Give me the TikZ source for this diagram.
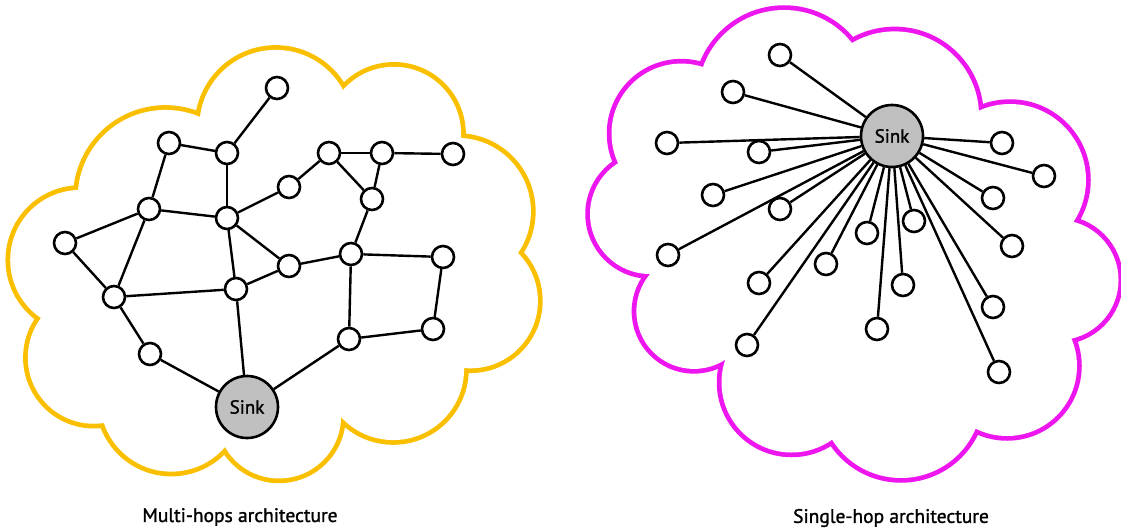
\documentclass[tikz,border=0pt]{standalone}
\usepackage{fontspec}
\setmainfont{PT Sans}
\newfontfamily\capfont[FakeBold=1.3]{PT Sans}
\definecolor{cloudY}{RGB}{250,192,0}
\definecolor{cloudM}{RGB}{238,22,238}
\definecolor{sinkgray}{RGB}{192,192,192}
\begin{document}
\begin{tikzpicture}[x=1pt,y=-1pt,
  nd/.style={circle,draw=black,line width=2.6pt,fill=white,minimum size=22pt,inner sep=0pt},
  sinknode/.style={circle,draw=black,line width=2.6pt,fill=sinkgray,minimum size=62pt,inner sep=0pt,font=\capfont\fontsize{19}{21}\selectfont},
  edge/.style={line width=2.4pt,black},
  lbl/.style={font=\capfont\fontsize{19.5}{22}\selectfont},
  cloudline/.style={line width=9.5pt}]
\useasboundingbox (0,0) rectangle (1121,532);

% ---------- left cloud (union of lobes) ----------
\foreach \cx/\cy/\r in {165.5/197.7/87.8, 275.8/126.3/76.4, 393.9/134.0/67.2, 457.4/211.4/73.5, 470.5/300.9/67.4, 393.3/369.3/70.75, 279.0/416.4/62.05, 171.3/400.6/71, 94.0/357.6/66.15, 80.3/260.0/70.07}
  \draw[cloudY,cloudline] (\cx,\cy) circle[radius=\r];
\foreach \cx/\cy/\r in {165.5/197.7/87.8, 275.8/126.3/76.4, 393.9/134.0/67.2, 457.4/211.4/73.5, 470.5/300.9/67.4, 393.3/369.3/70.75, 279.0/416.4/62.05, 171.3/400.6/71, 94.0/357.6/66.15, 80.3/260.0/70.07}
  \fill[white] (\cx,\cy) circle[radius=\r];
\begin{scope}[shift={(280,280)},scale=0.9,shift={(-280,-280)}]
  \fill[white] (78,190) -- (200,117) -- (343,90) -- (461,138) -- (518,253) -- (464,368) -- (341,417) -- (225,447) -- (104,423) -- (41,318) -- cycle;
\end{scope}

% ---------- right cloud (union of lobes) ----------
\foreach \cx/\cy/\r in {784.1/96.2/86.2, 894.7/115.7/84.3, 1010/180/76, 1058.5/280/60, 1007/366/70, 901/397/81, 791.6/382.4/70.1, 694.0/311.3/57.6, 650/214/60, 681.4/133.5/69.9}
  \draw[cloudM,cloudline] (\cx,\cy) circle[radius=\r];
\foreach \cx/\cy/\r in {784.1/96.2/86.2, 894.7/115.7/84.3, 1010/180/76, 1058.5/280/60, 1007/366/70, 901/397/81, 791.6/382.4/70.1, 694.0/311.3/57.6, 650/214/60, 681.4/133.5/69.9}
  \fill[white] (\cx,\cy) circle[radius=\r];
\begin{scope}[shift={(860,250)},scale=0.9,shift={(-860,-250)}]
  \fill[white] (703,67) -- (852,43) -- (979,113) -- (1070,221) -- (1069,338) -- (974,435) -- (833,439) -- (729,357) -- (651,273) -- (618,163) -- cycle;
\end{scope}

% ---------- multi-hop network ----------
\node[nd] (a1) at (277,88) {};
\node[nd] (a2) at (227,153) {};
\node[nd] (a3) at (169,143) {};
\node[nd] (a4) at (227,218) {};
\node[nd] (a5) at (149,209) {};
\node[nd] (a6) at (65,243) {};
\node[nd] (a7) at (114,297) {};
\node[nd] (a8) at (236,289) {};
\node[nd] (a9) at (150,354) {};
\node[nd] (a10) at (289,187) {};
\node[nd] (a11) at (329,153) {};
\node[nd] (a12) at (382,153) {};
\node[nd] (a13) at (453,154) {};
\node[nd] (a14) at (372,199) {};
\node[nd] (a15) at (289,266) {};
\node[nd] (a16) at (351,254) {};
\node[nd] (a17) at (443,257) {};
\node[nd] (a18) at (349,339) {};
\node[nd] (a19) at (433,329) {};
\node[sinknode] (sl) at (247,407) {Sink};

\foreach \u/\v in {a1/a2, a2/a3, a2/a4, a3/a5, a5/a6, a5/a4, a5/a7, a6/a7, a4/a10, a4/a8, a4/a15, a7/a8, a7/a9, a9/sl, a8/sl, a8/a15, a15/a16, a16/a14, a16/a17, a16/a18, a17/a19, a18/a19, a18/sl, a10/a11, a11/a12, a11/a14, a12/a14, a12/a13}
  \draw[edge] (\u) -- (\v);

% ---------- single-hop network ----------
\node[sinknode] (sr) at (892,136) {Sink};
\foreach \n/\px/\py in {b1/780/55, b2/733/92, b3/667/143, b4/759/152, b5/713/195, b6/780/209, b7/668/255, b8/759/283, b9/826/264, b10/747/345, b11/867/233, b12/914/221, b13/877/329, b14/903/285, b15/1002/143, b16/1044/176, b17/993/198, b18/1012/246, b19/993/307, b20/999/372}
{
  \node[nd] (\n) at (\px,\py) {};
  \draw[edge] (sr) -- (\n);
}

% ---------- captions ----------
\node[lbl] (capL) at (240,517) {Multi-hops architecture};
\node[lbl] (capR) at (891,518) {Single-hop architecture};
\end{tikzpicture}
\end{document}
